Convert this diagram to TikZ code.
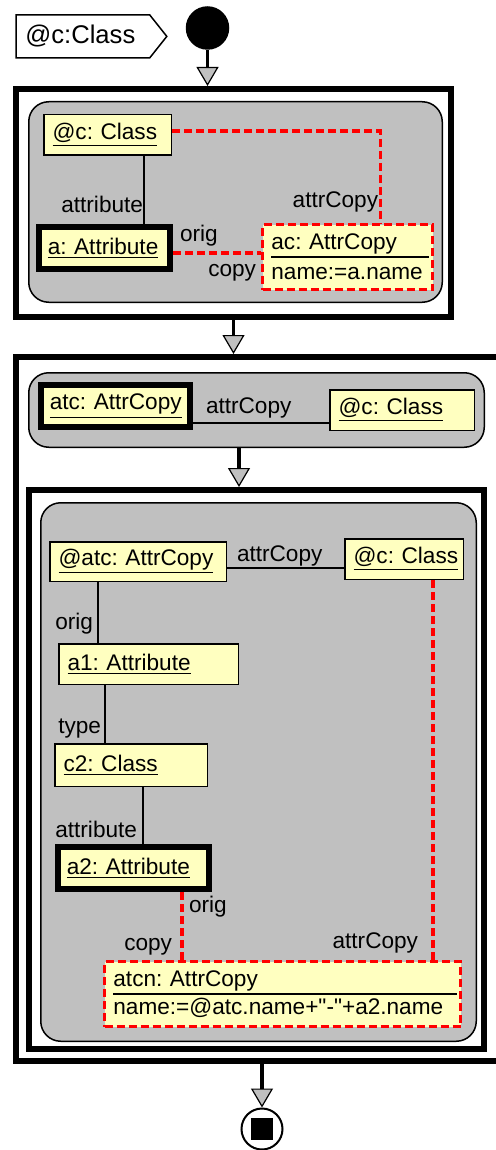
\documentclass[tikz,border=0pt]{standalone}
\usepackage{fontspec}
\setmainfont{Liberation Sans}
\usetikzlibrary{arrows.meta}
\definecolor{objfill}{HTML}{FFFFC0}
\definecolor{lhsgray}{HTML}{C0C0C0}
\frenchspacing

\begin{document}
\begin{tikzpicture}[x=0.5pt,y=-0.5pt,
    every node/.style={font=\fontsize{11.3}{13.5}\selectfont},
    obj/.style={draw=black,line width=0.75pt,fill=objfill,anchor=north west,
      align=left,inner xsep=4.4pt,inner ysep=0pt},
    bound/.style={obj,line width=3pt},
    create/.style={obj,draw=red,line width=1.6pt,dash pattern=on 4pt off 2pt},
    frame/.style={draw=black,line width=3pt,anchor=north west,inner sep=0pt},
    lhs/.style={draw=black,line width=0.75pt,fill=lhsgray,rounded corners=10pt,
      anchor=north west,inner sep=0pt},
    link/.style={draw=black,line width=0.75pt},
    newlink/.style={draw=red,line width=1.6pt,dash pattern=on 4pt off 2pt},
    lbl/.style={inner sep=0pt,outer sep=0pt},
    flow/.style={line width=1.75pt,
      -{Triangle[width=11pt,length=9.5pt,fill=lhsgray,line width=0.6pt]}},
    divider/.style={draw=black,line width=1pt}]
  \useasboundingbox (0,0) rectangle (496,1150);

  % parameter and start
  \node[anchor=north west,text width=66pt,minimum height=21pt,inner xsep=4.5pt,
    align=left,font=\fontsize{12.8}{15}\selectfont] (param) at (16,15) {@c:Class};
  \draw[line width=0.75pt] (param.north west) -- ([xshift=-8.5pt]param.north east)
    -- (param.east) -- ([xshift=-8.5pt]param.south east) -- (param.south west) -- cycle;
  \node[circle,fill=black,minimum size=21.75pt,inner sep=0pt] (start) at (207.5,28) {};

  % first rule
  \node[frame,minimum width=217.5pt,minimum height=114pt] (box1) at (13,86) {};
  \node[lhs,minimum width=206.75pt,minimum height=100.25pt] (lhs1) at (28,101) {};
  \node[obj,text width=54.95pt,minimum height=20.25pt] (r1c) at (43,114) {\underline{@c: Class}};
  \node[bound,text width=56.7pt,minimum height=21pt] (r1a) at (36,224) {\underline{a: Attribute}};
  \node[create,text width=76.2pt,minimum height=32.5pt] (r1ac) at (261,223)
    {\underline{ac: AttrCopy}\\[1.5pt]name:=a.name};
  \draw[divider] ([xshift=5pt]r1ac.west) -- ([xshift=-2.5pt]r1ac.east);

  \draw[link] ([xshift=18.25pt]r1c.south) -- ([xshift=18.25pt]r1c.south |- r1a.north)
    node[lbl,pos=1,anchor=base east,shift={(-1,-11)}] {attribute};
  \draw[newlink] ([yshift=2pt]r1c.east) -| ([xshift=16.25pt]r1ac.north)
    node[lbl,pos=1,anchor=base east,shift={(-2,-15)}] {attrCopy};
  \draw[newlink] ([yshift=-2.5pt]r1a.east) -- ([yshift=-2.5pt]r1a.east -| r1ac.west)
    node[lbl,pos=0,anchor=base west,shift={(7,-11)}] {orig}
    node[lbl,pos=1,anchor=base east,shift={(-5,24)}] {copy};

  \draw[flow] (start.south) -- (start.south |- box1.north);

  % for-each loop over the attribute copies
  \node[frame,minimum width=242pt,minimum height=352pt] (box2) at (13,354) {};
  \draw[flow] (box1.south) -- (box1.south |- box2.north);

  \node[lhs,minimum width=227.75pt,minimum height=37.25pt] (lhs2) at (28,372) {};
  \node[bound,text width=65.7pt,minimum height=21pt] (r2atc) at (38,382) {\underline{atc: AttrCopy}};
  \node[obj,text width=63.45pt,minimum height=20.25pt] (r2c) at (329,389) {\underline{@c: Class}};
  \draw[link] ([yshift=-8.5pt]r2atc.east) -- ([yshift=-8.5pt]r2atc.east -| r2c.west)
    node[lbl,pos=0,anchor=base west,shift={(13,-10)}] {attrCopy};

  % inner loop over the attributes of the type
  \node[frame,minimum width=227.5pt,minimum height=279.5pt] (box3) at (26,487) {};
  \draw[flow] ([xshift=-8.75pt]lhs2.south) -- ([xshift=-8.75pt]lhs2.south |- box3.north);

  \node[lhs,minimum width=217.75pt,minimum height=269.25pt] (lhs3) at (40,502) {};
  \node[obj,text width=79.45pt,minimum height=19.75pt] (r3atc) at (49,541) {\underline{@atc: AttrCopy}};
  \node[obj,text width=50.45pt,minimum height=20.25pt] (r3c) at (344,538) {\underline{@c: Class}};
  \node[obj,text width=80.95pt,minimum height=20.25pt] (r3a1) at (58,643) {\underline{a1: Attribute}};
  \node[obj,text width=67.45pt,minimum height=21.25pt] (r3c2) at (54,743) {\underline{c2: Class}};
  \node[bound,text width=66.7pt,minimum height=21pt] (r3a2) at (55,844) {\underline{a2: Attribute}};
  \node[create,text width=169.2pt,minimum height=32.5pt] (r3atcn) at (103,960)
    {\underline{atcn: AttrCopy}\\[0.8pt]name:=@atc.name+\textquotedbl-\textquotedbl+a2.name};
  \draw[divider] ([xshift=5pt]r3atcn.west) -- ([xshift=-2.5pt]r3atcn.east);

  \draw[link] ([yshift=-3.25pt]r3atc.east) -- ([yshift=-3.25pt]r3atc.east -| r3c.west)
    node[lbl,pos=0,anchor=base west,shift={(10,-7)}] {attrCopy};
  \draw[link] ([xshift=-20pt]r3atc.south) -- ([xshift=-20pt]r3atc.south |- r3a1.north)
    node[lbl,pos=1,anchor=base east,shift={(-5,-14)}] {orig};
  \draw[link] ([xshift=-21.75pt]r3a1.south) -- ([xshift=-21.75pt]r3a1.south |- r3c2.north)
    node[lbl,pos=1,anchor=base east,shift={(-4,-10)}] {type};
  \draw[link] ([xshift=6pt]r3c2.south) -- ([xshift=6pt]r3c2.south |- r3a2.north)
    node[lbl,pos=1,anchor=base east,shift={(-6,-7)}] {attribute};
  \draw[newlink] ([xshift=24.25pt]r3a2.south) -- ([xshift=24.25pt]r3a2.south |- r3atcn.north)
    node[lbl,pos=0,anchor=base west,shift={(7,20)}] {orig}
    node[lbl,pos=1,anchor=base east,shift={(-10,-10)}] {copy};
  \draw[newlink] ([xshift=14.5pt]r3c.south) -- ([xshift=14.5pt]r3c.south |- r3atcn.north)
    node[lbl,pos=1,anchor=base east,shift={(-15,-12)}] {attrCopy};

  % stop
  \node[circle,draw,line width=1pt,fill=white,minimum size=20.5pt,inner sep=0pt] (stop) at (262,1129) {};
  \node[fill=black,minimum size=11pt,inner sep=0pt] (stopmark) at (stop.center) {};
  \draw[flow] (stop |- box2.south) -- (stop.north);
\end{tikzpicture}
\end{document}
